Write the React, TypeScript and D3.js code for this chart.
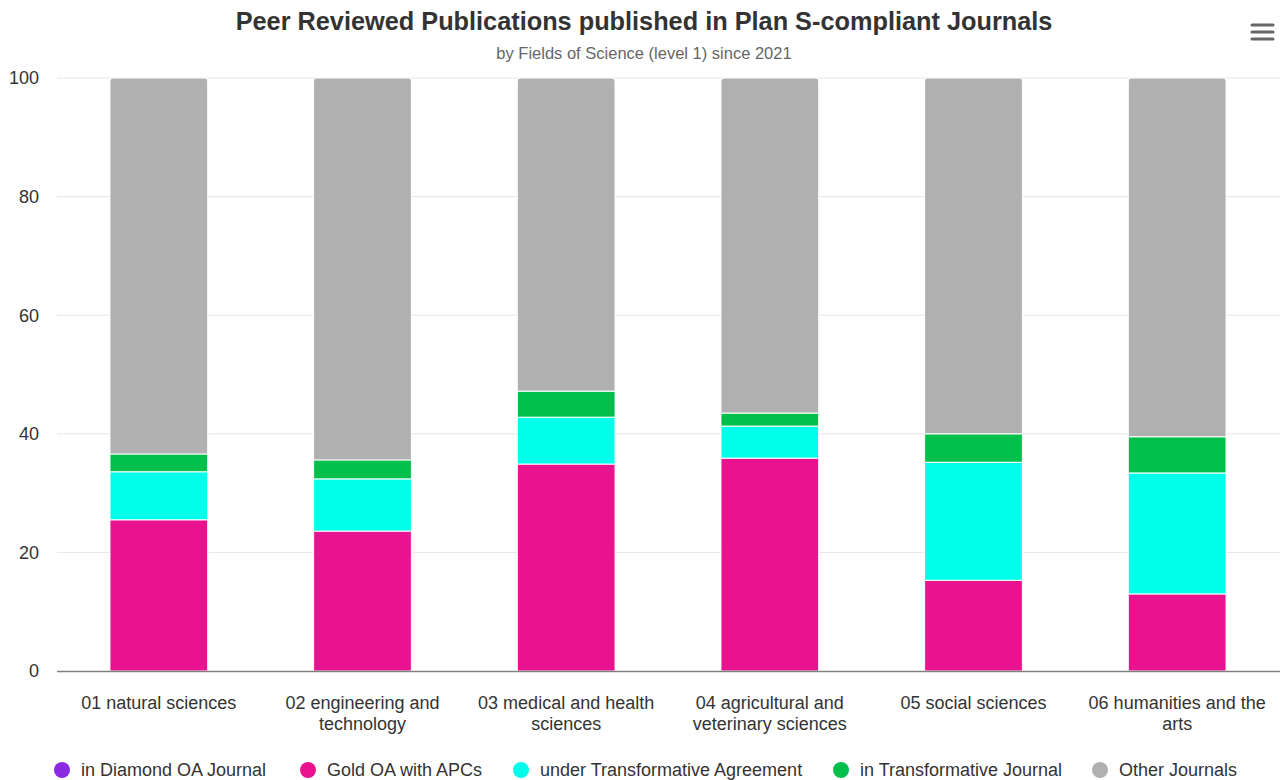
import * as d3 from "d3";
import { useEffect, useRef } from "react";

const categories = [
  "01 natural sciences",
  "02 engineering and technology",
  "03 medical and health sciences",
  "04 agricultural and veterinary sciences",
  "05 social sciences",
  "06 humanities and the arts",
];
const seriesNames = [
  "in Diamond OA Journal",
  "Gold OA with APCs",
  "under Transformative Agreement",
  "in Transformative Journal",
  "Other Journals",
];
const seriesColors = ["#8a2be2", "#e91390", "#00ffea", "#00bf4b", "#b0b0b0"];

// percent shares per category
const diamondOA = [0, 0, 0, 0, 0, 0];
const goldAPC = [25.5, 23.6, 34.9, 35.9, 15.3, 13.0];
const transformativeAgreement = [8.1, 8.8, 7.9, 5.4, 19.9, 20.4];
const transformativeJournal = [3.0, 3.2, 4.4, 2.2, 4.8, 6.1];
const otherJournals = [63.4, 64.4, 52.8, 56.5, 60.0, 60.5];

const yTicks = [0, 20, 40, 60, 80, 100];

const W = 1280;
const H = 780;
const margin = { top: 78, right: 1, bottom: 109, left: 57 };
const FONT = "'Liberation Sans', Arial, Helvetica, sans-serif";

const App = () => {
  const ref = useRef<SVGSVGElement | null>(null);

  useEffect(() => {
    document.body.style.margin = "0";
    const svg = d3.select(ref.current);
    svg.selectAll("*").remove();

    const rows = categories.map((c, i) => ({
      cat: c,
      s0: diamondOA[i],
      s1: goldAPC[i],
      s2: transformativeAgreement[i],
      s3: transformativeJournal[i],
      s4: otherJournals[i],
    }));
    const keys = ["s0", "s1", "s2", "s3", "s4"];
    const stacked = d3.stack<any>().keys(keys)(rows);

    const x = d3
      .scaleBand()
      .domain(categories)
      .range([margin.left, W - margin.right])
      .paddingInner(0.52)
      .paddingOuter(0.26);
    const y = d3
      .scaleLinear()
      .domain([0, 100])
      .range([H - margin.bottom, margin.top]);

    // title
    svg
      .append("text")
      .attr("x", 644)
      .attr("y", 30)
      .attr("text-anchor", "middle")
      .attr("font-family", FONT)
      .attr("font-size", 25.3)
      .attr("font-weight", "bold")
      .attr("fill", "#333333")
      .text("Peer Reviewed Publications published in Plan S-compliant Journals");
    svg
      .append("text")
      .attr("x", 644)
      .attr("y", 59)
      .attr("text-anchor", "middle")
      .attr("font-family", FONT)
      .attr("font-size", 16.5)
      .attr("fill", "#666666")
      .text("by Fields of Science (level 1) since 2021");

    // menu icon
    [0, 7, 14].forEach((dy) => {
      svg
        .append("line")
        .attr("x1", 1252)
        .attr("x2", 1273)
        .attr("y1", 25 + dy)
        .attr("y2", 25 + dy)
        .attr("stroke", "#666666")
        .attr("stroke-width", 3)
        .attr("stroke-linecap", "round");
    });

    // grid
    const grid = svg.append("g");
    yTicks.forEach((t) => {
      if (t > 0)
        grid
          .append("line")
          .attr("x1", margin.left)
          .attr("x2", W)
          .attr("y1", y(t))
          .attr("y2", y(t))
          .attr("stroke", "#e6e6e6")
          .attr("stroke-width", 1);
      grid
        .append("text")
        .attr("x", 39)
        .attr("y", y(t))
        .attr("dy", "0.35em")
        .attr("text-anchor", "end")
        .attr("font-family", FONT)
        .attr("font-size", 18)
        .attr("fill", "#333333")
        .text(t);
    });

    // bars
    const bw = x.bandwidth();
    stacked.forEach((layer, li) => {
      const g = svg.append("g").attr("fill", seriesColors[li]);
      layer.forEach((d: any) => {
        const x0 = x(d.data.cat)!;
        const yTop = y(d[1]);
        const yBot = y(d[0]);
        const h = yBot - yTop;
        if (h <= 0) return;
        if (li === stacked.length - 1) {
          const r = 3;
          const p = d3.path();
          p.moveTo(x0, yBot);
          p.lineTo(x0, yTop + r);
          p.arcTo(x0, yTop, x0 + r, yTop, r);
          p.lineTo(x0 + bw - r, yTop);
          p.arcTo(x0 + bw, yTop, x0 + bw, yTop + r, r);
          p.lineTo(x0 + bw, yBot);
          p.closePath();
          g.append("path")
            .attr("d", p.toString())
            .attr("stroke", "#ffffff")
            .attr("stroke-width", 1);
        } else {
          g.append("rect")
            .attr("x", x0)
            .attr("y", yTop)
            .attr("width", bw)
            .attr("height", h)
            .attr("stroke", "#ffffff")
            .attr("stroke-width", 1);
        }
      });
    });

    // x axis line
    svg
      .append("line")
      .attr("x1", margin.left)
      .attr("x2", W)
      .attr("y1", y(0) + 0.5)
      .attr("y2", y(0) + 0.5)
      .attr("stroke", "#808080")
      .attr("stroke-width", 1.5);

    // x labels with wrapping
    const maxW = 205;
    categories.forEach((c) => {
      const cx = x(c)! + bw / 2;
      const t = svg
        .append("text")
        .attr("text-anchor", "middle")
        .attr("font-family", FONT)
        .attr("font-size", 18)
        .attr("fill", "#333333");
      const words = c.split(" ");
      const lines: string[] = [];
      let cur: string[] = [];
      const probe = t.append("tspan");
      words.forEach((w) => {
        const test = [...cur, w].join(" ");
        probe.text(test);
        if ((probe.node() as SVGTSpanElement).getComputedTextLength() > maxW && cur.length) {
          lines.push(cur.join(" "));
          cur = [w];
        } else cur.push(w);
      });
      lines.push(cur.join(" "));
      probe.remove();
      lines.forEach((ln, i) => {
        t.append("tspan")
          .attr("x", cx)
          .attr("y", 709 + i * 21)
          .text(ln);
      });
    });

    // legend
    const legendX = [62, 308, 521, 841, 1100];
    seriesNames.forEach((n, i) => {
      svg
        .append("circle")
        .attr("cx", legendX[i])
        .attr("cy", 770)
        .attr("r", 8)
        .attr("fill", seriesColors[i]);
      svg
        .append("text")
        .attr("x", legendX[i] + 19)
        .attr("y", 770)
        .attr("dy", "0.35em")
        .attr("font-family", FONT)
        .attr("font-size", 18)
        .attr("fill", "#333333")
        .text(n);
    });
  }, []);

  return <svg ref={ref} width={W} height={H} style={{ display: "block", background: "#ffffff" }} />;
};

export default App;
